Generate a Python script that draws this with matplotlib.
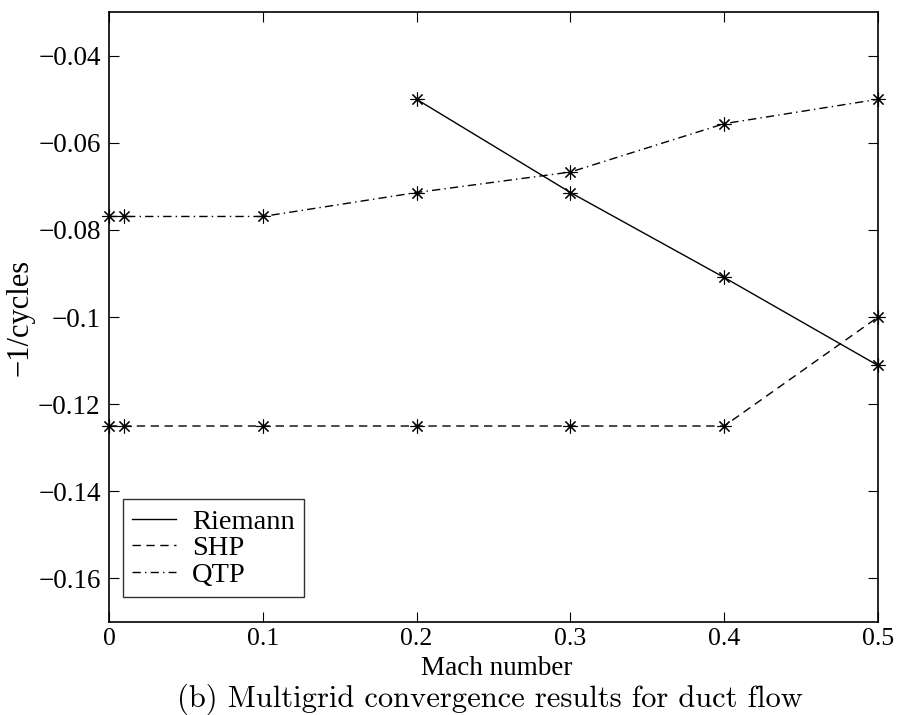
import matplotlib
matplotlib.use("Agg")
import matplotlib.pyplot as plt

# data: -1/cycles vs Mach number
riemann_x = [0.2, 0.3, 0.4, 0.5]
riemann_y = [-0.05, -0.0714, -0.0909, -0.1111]

shp_x = [0.0, 0.01, 0.1, 0.2, 0.3, 0.4, 0.5]
shp_y = [-0.125, -0.125, -0.125, -0.125, -0.125, -0.125, -0.1]

qtp_x = [0.0, 0.01, 0.1, 0.2, 0.3, 0.4, 0.5]
qtp_y = [-0.0769, -0.0769, -0.0769, -0.0714, -0.0667, -0.0556, -0.05]

x_ticks = [0, 0.1, 0.2, 0.3, 0.4, 0.5]
x_labels = ["0", "0.1", "0.2", "0.3", "0.4", "0.5"]
y_ticks = [-0.16, -0.14, -0.12, -0.1, -0.08, -0.06, -0.04]
y_labels = ["\u22120.16", "\u22120.14", "\u22120.12", "\u22120.1", "\u22120.08", "\u22120.06", "\u22120.04"]

serif = "Liberation Serif"
star = (8, 2, 0)

fig = plt.figure(figsize=(9.03, 7.15), dpi=100)
ax = fig.add_axes([0.1207, 0.130, 0.8516, 0.853])

common = dict(color="black", lw=1.0, marker=star, markersize=10, markeredgewidth=0.8, clip_on=False)
ax.plot(riemann_x, riemann_y, "-", label="Riemann", **common)
ax.plot(shp_x, shp_y, "--", dashes=(6, 4), label="SHP", **common)
ax.plot(qtp_x, qtp_y, "-.", dashes=(6, 3, 1, 3), label="QTP", **common)

ax.set_xlim(0, 0.5)
ax.set_ylim(-0.17, -0.03)
ax.set_xticks(x_ticks)
ax.set_xticklabels(x_labels, fontname=serif, fontsize=18.5)
ax.set_yticks(y_ticks)
ax.set_yticklabels(y_labels, fontname=serif, fontsize=19.5)
ax.tick_params(direction="in", length=7, width=0.8, top=True, right=True)
ax.tick_params(axis="x", pad=4)
ax.tick_params(axis="y", pad=6)
for s in ax.spines.values():
    s.set_linewidth(1.2)

ax.set_xlabel("Mach number", fontname=serif, fontsize=19.5)
ax.xaxis.set_label_coords(0.504, -0.055)
ax.set_ylabel("\u22121/cycles", fontname=serif, fontsize=22)
ax.yaxis.set_label_coords(-0.097, 0.5)

leg = ax.legend(loc="lower left", bbox_to_anchor=(0.018, 0.041), borderaxespad=0,
                prop={"family": serif, "size": 20.5}, fancybox=False, frameon=True,
                handlelength=1.55, handletextpad=0.55, labelspacing=0.02, borderpad=0.33)
leg.get_frame().set_edgecolor("black")
leg.get_frame().set_linewidth(1.0)
for h in leg.get_lines():
    h.set_marker("")

fig.text(0.543, 0.0, "(b) Multigrid convergence results for duct flow",
         family="cmr10", fontsize=22, ha="center", va="bottom")

fig.savefig("out.png", dpi=100)
